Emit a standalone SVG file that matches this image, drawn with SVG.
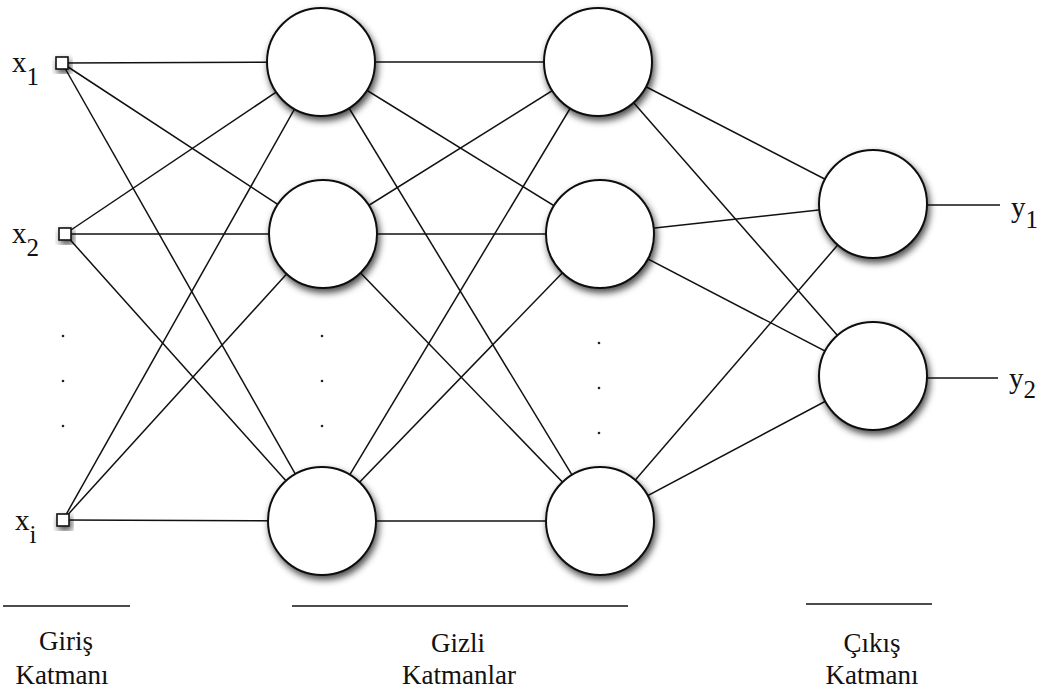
<svg xmlns="http://www.w3.org/2000/svg" width="1046" height="693" viewBox="0 0 1046 693">
<defs>
<filter id="sh" x="-30%" y="-30%" width="170%" height="170%">
<feDropShadow dx="2" dy="4" stdDeviation="3.5" flood-color="#000" flood-opacity="0.7"/>
</filter>
<style>
.ln{stroke:#111;stroke-width:1.5;fill:none}
.nd{fill:#fff;stroke:#111;stroke-width:2}
.sq{fill:#fff;stroke:#111;stroke-width:1.6}
.dot{fill:#222}
text{font-family:'Liberation Serif','Times New Roman',serif;fill:#111}
.v{font-size:29px}
.s{font-size:25px}
.lab{font-size:27px;text-anchor:middle}
</style>
</defs>
<rect width="1046" height="693" fill="#fff"/>
<g id="connectors" class="ln">
<line x1="62" y1="63" x2="321" y2="62"/>
<line x1="62" y1="63" x2="323" y2="234"/>
<line x1="62" y1="63" x2="322" y2="521"/>
<line x1="65" y1="234" x2="321" y2="62"/>
<line x1="65" y1="234" x2="323" y2="234"/>
<line x1="65" y1="234" x2="322" y2="521"/>
<line x1="63" y1="520" x2="321" y2="62"/>
<line x1="63" y1="520" x2="323" y2="234"/>
<line x1="63" y1="520" x2="322" y2="521"/>
<line x1="321" y1="62" x2="598" y2="62"/>
<line x1="321" y1="62" x2="600" y2="234"/>
<line x1="321" y1="62" x2="600" y2="521"/>
<line x1="323" y1="234" x2="598" y2="62"/>
<line x1="323" y1="234" x2="600" y2="234"/>
<line x1="323" y1="234" x2="600" y2="521"/>
<line x1="322" y1="521" x2="598" y2="62"/>
<line x1="322" y1="521" x2="600" y2="234"/>
<line x1="322" y1="521" x2="600" y2="521"/>
<line x1="598" y1="62" x2="873" y2="204"/>
<line x1="598" y1="62" x2="873" y2="376"/>
<line x1="600" y1="234" x2="873" y2="204"/>
<line x1="600" y1="234" x2="873" y2="376"/>
<line x1="600" y1="521" x2="873" y2="204"/>
<line x1="600" y1="521" x2="873" y2="376"/>
<line x1="873" y1="205" x2="1000" y2="205"/>
<line x1="873" y1="378" x2="998" y2="378"/>
</g>
<g id="input-x1">
<rect class="sq" x="56" y="57" width="12" height="12" filter="url(#sh)"/>
<text x="12" y="72"><tspan class="v">x</tspan><tspan class="s" dy="13">1</tspan></text>
</g>
<g id="input-x2">
<rect class="sq" x="59" y="228" width="12" height="12" filter="url(#sh)"/>
<text x="12" y="243"><tspan class="v">x</tspan><tspan class="s" dy="13">2</tspan></text>
</g>
<g id="input-xi">
<rect class="sq" x="57" y="514" width="12" height="12" filter="url(#sh)"/>
<text x="15" y="530"><tspan class="v">x</tspan><tspan class="s" dy="13">i</tspan></text>
</g>
<g id="input-dots">
<circle class="dot" cx="63" cy="336" r="1.3"/>
<circle class="dot" cx="63" cy="381" r="1.3"/>
<circle class="dot" cx="63" cy="426" r="1.3"/>
</g>
<g id="h1-1"><circle class="nd" cx="321" cy="62" r="54" filter="url(#sh)"/></g>
<g id="h1-2"><circle class="nd" cx="323" cy="234" r="54" filter="url(#sh)"/></g>
<g id="h1-3"><circle class="nd" cx="322" cy="521" r="54" filter="url(#sh)"/></g>
<g id="h1-dots">
<circle class="dot" cx="322" cy="336" r="1.3"/>
<circle class="dot" cx="322" cy="381" r="1.3"/>
<circle class="dot" cx="322" cy="426" r="1.3"/>
</g>
<g id="h2-1"><circle class="nd" cx="598" cy="62" r="54" filter="url(#sh)"/></g>
<g id="h2-2"><circle class="nd" cx="600" cy="234" r="54" filter="url(#sh)"/></g>
<g id="h2-3"><circle class="nd" cx="600" cy="521" r="54" filter="url(#sh)"/></g>
<g id="h2-dots">
<circle class="dot" cx="599" cy="343" r="1.3"/>
<circle class="dot" cx="599" cy="388" r="1.3"/>
<circle class="dot" cx="599" cy="433" r="1.3"/>
</g>
<g id="out-1"><circle class="nd" cx="873" cy="204" r="54" filter="url(#sh)"/>
<text x="1011" y="217"><tspan class="v">y</tspan><tspan class="s" dy="11">1</tspan></text>
</g>
<g id="out-2"><circle class="nd" cx="873" cy="376" r="54" filter="url(#sh)"/>
<text x="1009" y="388"><tspan class="v">y</tspan><tspan class="s" dy="10">2</tspan></text>
</g>
<g id="label-giris">
<line class="ln" x1="3" y1="606" x2="130" y2="606"/>
<text class="lab" x="66" y="650">Giriş</text>
<text class="lab" x="62" y="684">Katmanı</text>
</g>
<g id="label-gizli">
<line class="ln" x1="292" y1="606" x2="628" y2="606"/>
<text class="lab" x="458" y="652">Gizli</text>
<text class="lab" x="459" y="684">Katmanlar</text>
</g>
<g id="label-cikis">
<line class="ln" x1="806" y1="604" x2="932" y2="604"/>
<text class="lab" x="872" y="652">Çıkış</text>
<text class="lab" x="872" y="684">Katmanı</text>
</g>
</svg>
